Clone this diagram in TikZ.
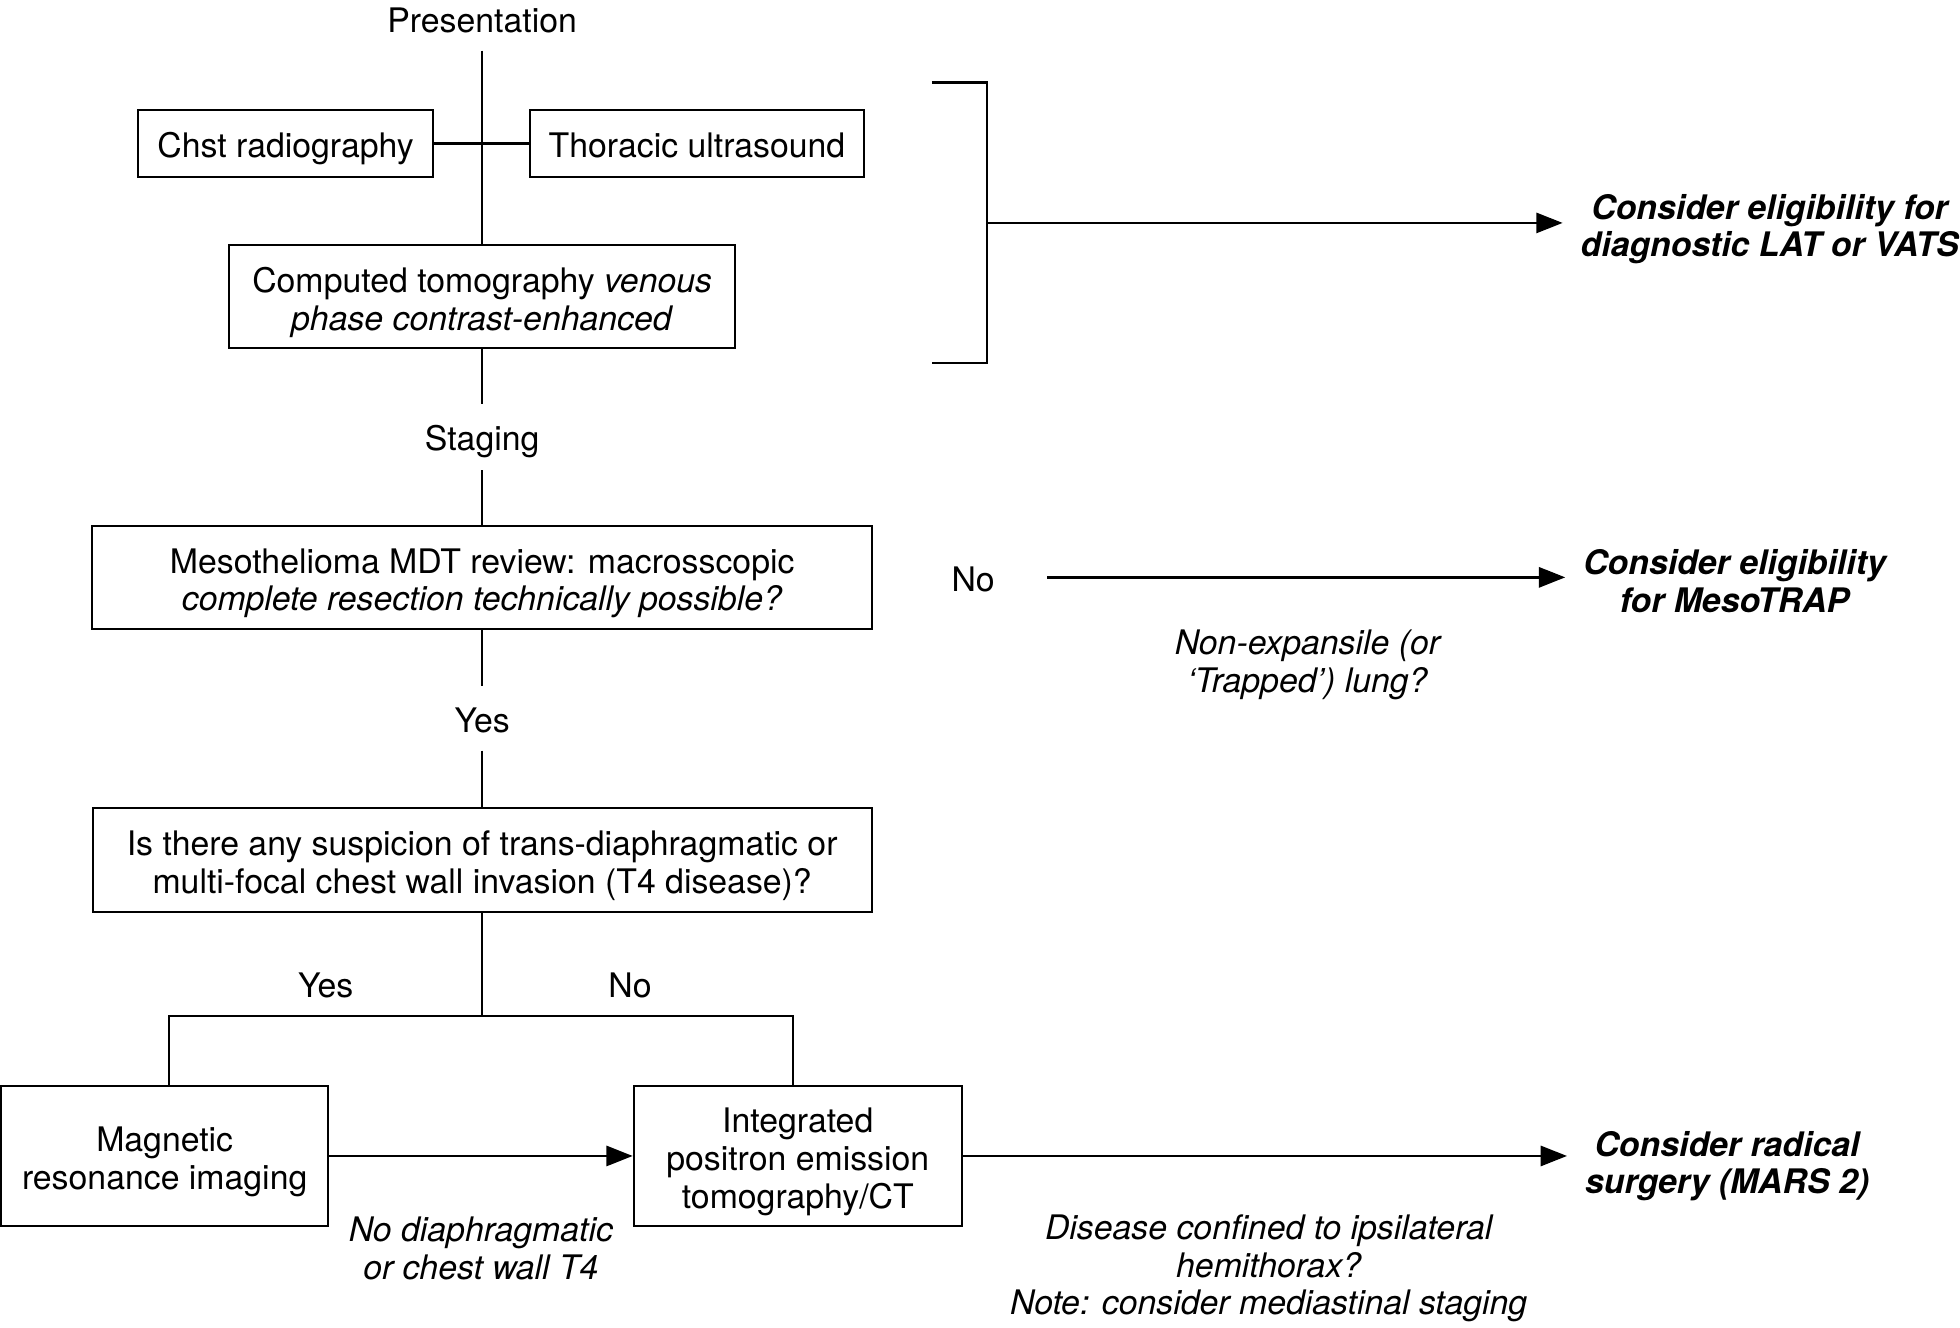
\documentclass[tikz,border=0pt]{standalone}
\usepackage{fontspec}
\setmainfont{TeX Gyre Heros}
\usetikzlibrary{arrows.meta}
\newcommand{\mytopstrut}{\rule{0pt}{14.5pt}}
\begin{document}
\begin{tikzpicture}[x=0.5pt,y=-0.5pt,
  every node/.style={font=\fontsize{13.5pt}{15pt}\selectfont, align=center, inner sep=0pt},
  box/.style={draw, line width=0.8pt},
  onebox/.style={box,
    execute at begin node={\rule{0pt}{14.5pt}},
    execute at end node={\rule[-3pt]{0pt}{3pt}}},
  lowered/.style={execute at begin node={\rule{0pt}{#1}}},
  conn/.style={line width=0.8pt},
  thickconn/.style={line width=1.2pt},
  arr/.style={line width=1.1pt, -{Triangle[length=10.5pt,width=8pt]}},
  res/.style={font=\fontsize{13.5pt}{15pt}\selectfont\bfseries\itshape, inner xsep=7pt},
  note/.style={font=\fontsize{13.5pt}{15pt}\selectfont\itshape}
]
\useasboundingbox (0,0) rectangle (1565,1060);

% main column
\node[minimum height=24pt] (pres) at (385,16) {Presentation};
\node[onebox, minimum width=118pt, minimum height=26.5pt] (chst) at (228,114.5) {Chst radiography};
\node[onebox, minimum width=133.5pt, minimum height=26.5pt] (thor) at (556.5,114.5) {Thoracic ultrasound};
\node[box, minimum width=202pt, minimum height=41pt] (ct) at (385,237) {\mytopstrut Computed tomography \textit{venous}\\\textit{phase contrast-enhanced}};
\node[minimum height=26pt, lowered=13.7pt] (staging) at (385,349) {Staging};
\node[box, minimum width=311.5pt, minimum height=41pt] (mdt) at (385,461) {\mytopstrut Mesothelioma MDT review: macrosscopic\\\textit{complete resection technically possible?}};
\node[minimum height=25.5pt, lowered=11.7pt] (yes1) at (385,573.5) {Yes};
\node[box, minimum width=311pt, minimum height=41.5pt] (t4) at (385,686.5) {\mytopstrut Is there any suspicion of trans-diaphragmatic or\\multi-focal chest wall invasion (T4 disease)?};
\node (yes2) at (260,787) {Yes};
\node (no2) at (503,787) {No};
\node[box, minimum width=130.5pt, minimum height=56pt] (mri) at (131.5,923) {\mytopstrut Magnetic\\resonance imaging};
\node[box, minimum width=131pt, minimum height=56pt] (pet) at (637,923) {\mytopstrut Integrated\\positron emission\\tomography/CT};

% labels
\node (no1) at (777,463) {No};
\node[note] (trap) at (1044,531) {Non-expansile (or\\‘Trapped’) lung?};
\node[note] (nodia) at (384,997) {No diaphragmatic\\or chest wall T4};
\node[note] (dis) at (1013,1013) {Disease confined to ipsilateral\\hemithorax?\\Note: consider mediastinal staging};

% results
\node[res] (lat) at (1413,183) {Consider eligibility for\\diagnostic LAT or VATS};
\node[res] (meso) at (1385,464) {Consider eligibility\\for MesoTRAP};
\node[res] (mars) at (1379,931) {Consider radical\\surgery (MARS 2)};

% connectors
\draw[conn] (pres.south) -- (ct.north);
\draw[thickconn] (chst.east) -- (thor.west);
\draw[conn] (ct.south) -- (staging.north);
\draw[conn] (staging.south) -- (mdt.north);
\draw[conn] (mdt.south) -- (yes1.north);
\draw[conn] (yes1.south) -- (t4.north);
\coordinate (split) at (385,811);
\draw[conn] (t4.south) -- (split);
\draw[conn] ([xshift=1.6pt]mri.north) |- (split) -| ([xshift=-2pt]pet.north);
\draw[arr] (mri.east) -- (pet.west);
\draw[arr] (pet.east) -- (pet.east -| mars.west);

% bracket
\coordinate (bt) at (744,66);
\coordinate (btc) at (788,66);
\coordinate (bbc) at (788,290);
\coordinate (bb) at (744,290);
\coordinate (bm) at (788,178);
\draw[line width=1pt] (bt) -- (btc) -- (bbc) -- (bb);
\draw[arr] (bm) -- (bm -| lat.west);

% No arrow
\coordinate (nostart) at (836,461);
\draw[arr] (nostart) -- (nostart -| meso.west);
\end{tikzpicture}
\end{document}
